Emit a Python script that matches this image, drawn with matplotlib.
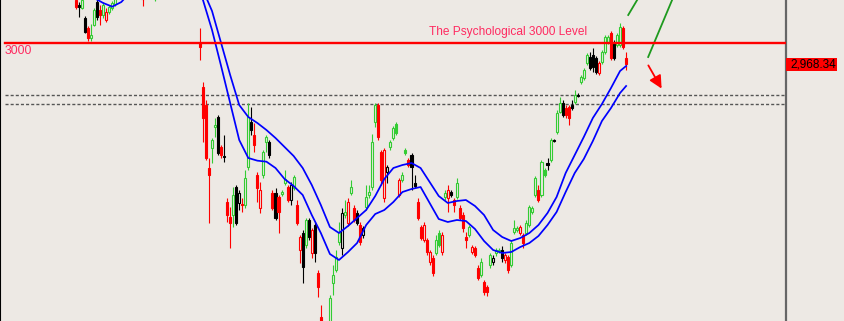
import matplotlib
matplotlib.use("Agg")
import matplotlib.pyplot as plt
from matplotlib.patches import Rectangle
from matplotlib.transforms import blended_transform_factory
import numpy as np

plt.rcParams['font.family'] = ['Liberation Sans', 'DejaVu Sans']

# daily candles (price units), oldest first
opens = [3065, 3057.5, 3053, 3038, 3023, 3008, 3027.5, 3062, 3050, 3042.5,
         3035, 3047, 3053, 3059, 3068, 3074, 3080, 3089, 3083, 3095,
         3089, 3086, 3074, 3071, 3077, 3080, 3066.5, 3069.5, 3083, 3092,
         3110, 3104, 3101, 3104, 3110, 3101, 3080, 3092, 3086, 3071,
         3080, 3000.5, 2934.5, 2907.5, 2813, 2843, 2874.5, 2889.5, 2844.5, 2831,
         2762, 2739.5, 2742.5, 2784.5, 2760.5, 2759, 2757.5, 2814.5, 2882, 2862.5,
         2802.5, 2753, 2802.5, 2852, 2852, 2775.5, 2775.5, 2769.5, 2774, 2790.5,
         2784.5, 2765, 2783, 2757.5, 2690, 2715.5, 2697.5, 2735, 2685.5, 2727.5,
         2655.5, 2589.5, 2577.5, 2570, 2573, 2640.5, 2660, 2702, 2693, 2742.5,
         2730.5, 2775.5, 2753, 2745.5, 2727.5, 2712.5, 2754.5, 2772.5, 2784.5, 2882,
         2907.5, 2837, 2768, 2807, 2844.5, 2858, 2879, 2772.5, 2795, 2840,
         2825, 2832.5, 2790.5, 2762, 2724.5, 2705, 2705, 2672, 2678, 2685.5,
         2715.5, 2687, 2769.5, 2768, 2777, 2765, 2769.5, 2753, 2742.5, 2709.5,
         2712.5, 2687, 2693, 2663, 2652.5, 2642, 2634.5, 2667.5, 2672, 2685.5,
         2688.5, 2690, 2675, 2679.5, 2667.5, 2717, 2720, 2715.5, 2712.5, 2715.5,
         2727.5, 2747, 2772.5, 2780, 2772.5, 2810, 2820.5, 2825, 2855, 2867,
         2897, 2910.5, 2903, 2904.5, 2907.5, 2912, 2922.5, 2942, 2948, 2970.5,
         2979.5, 2982.5, 2978, 2955.5, 2972, 2987, 3002, 3015.5, 3000.5, 2997.5,
         2997.5, 3023, 2978]
closes = [3054.5, 3054.5, 3065, 3017, 3008, 3012.5, 3050, 3039.5, 3042.5, 3057.5,
          3047, 3054.5, 3060.5, 3068, 3077, 3086, 3092, 3080, 3098, 3086,
          3077, 3074, 3066.5, 3083, 3089, 3071, 3071, 3080, 3095, 3107,
          3098, 3089, 3113, 3119, 3095, 3086, 3095, 3077, 3074, 3083,
          3068, 2994.5, 2888, 2828, 2802.5, 2855, 2877.5, 2835.5, 2832.5, 2829.5,
          2742.5, 2730.5, 2772.5, 2730.5, 2775.5, 2757.5, 2798, 2889.5, 2870, 2847.5,
          2783, 2780, 2837, 2859.5, 2832.5, 2753, 2738, 2747, 2777, 2796.5,
          2765, 2787.5, 2799.5, 2730.5, 2709.5, 2664.5, 2735, 2709.5, 2720, 2685.5,
          2634.5, 2576, 2558, 2547.5, 2618, 2652.5, 2679.5, 2717, 2745.5, 2747,
          2762, 2784.5, 2735, 2730.5, 2702, 2723, 2769.5, 2777, 2852, 2907.5,
          2859.5, 2795, 2840, 2814.5, 2852, 2873, 2865.5, 2795, 2802.5, 2835.5,
          2817.5, 2814.5, 2786, 2738, 2708, 2727.5, 2687, 2687, 2655.5, 2705,
          2697.5, 2712.5, 2775.5, 2780, 2772.5, 2757.5, 2790.5, 2738, 2723, 2705,
          2724.5, 2694.5, 2682.5, 2648, 2672, 2627, 2627, 2682.5, 2678, 2690,
          2690, 2678, 2682.5, 2660, 2700.5, 2723, 2723, 2724.5, 2700.5, 2730.5,
          2754.5, 2753, 2798, 2765, 2822, 2802.5, 2817.5, 2855, 2853.5, 2895.5,
          2910.5, 2892.5, 2892.5, 2888, 2903, 2922.5, 2921, 2949.5, 2960, 2982.5,
          2963, 2964.5, 2957, 2970.5, 2987, 3009.5, 3009.5, 2978, 2978, 3012.5,
          3024.5, 2994.5, 2968.34]
highs = [3069.5, 3062, 3069.5, 3041, 3026, 3029, 3053, 3068, 3057.5, 3062,
         3053, 3057.5, 3063.5, 3071, 3080, 3089, 3095, 3093, 3101, 3099,
         3092, 3089, 3080, 3086, 3092, 3083, 3074, 3083, 3098, 3110,
         3113, 3107, 3116, 3122, 3113, 3104, 3098, 3095, 3089, 3086,
         3083, 3023, 2942, 2915, 2828, 2858, 2888, 2892.5, 2847.5, 2862.5,
         2768, 2754.5, 2784.5, 2787.5, 2780, 2768, 2810, 2910.5, 2904.5, 2880.5,
         2807, 2792, 2840, 2862.5, 2855, 2780, 2783, 2772.5, 2780, 2810,
         2787.5, 2792, 2802.5, 2765, 2712.5, 2720, 2738, 2738, 2723, 2732,
         2660, 2607.5, 2582, 2575, 2622.5, 2667.5, 2690, 2732, 2753, 2765,
         2768, 2795, 2757.5, 2750, 2732, 2726, 2787.5, 2787.5, 2864, 2910.5,
         2910.5, 2840, 2843, 2817.5, 2855, 2876, 2882, 2798, 2807, 2843,
         2828, 2835.5, 2802.5, 2768, 2727.5, 2732, 2708, 2690, 2682.5, 2712.5,
         2720, 2717, 2780, 2787.5, 2780, 2768, 2798, 2757.5, 2747, 2717,
         2727.5, 2697.5, 2696, 2667.5, 2678, 2645, 2637.5, 2685.5, 2682.5, 2693,
         2693, 2696, 2685.5, 2682.5, 2705, 2735, 2726, 2727.5, 2715.5, 2735,
         2757.5, 2756, 2801, 2787.5, 2825, 2813, 2828, 2858, 2856.5, 2900,
         2919.5, 2915, 2907.5, 2907.5, 2915, 2930, 2925.5, 2952.5, 2963, 2985.5,
         2987, 2993, 2981, 2973.5, 2990, 3012.5, 3012.5, 3018.5, 3005, 3015.5,
         3030.5, 3026, 2987]
lows = [3051.5, 3039.5, 3051.5, 3015.5, 3003.5, 3003.5, 3026, 3035, 3027.5, 3038,
        3032, 3044, 3050, 3056, 3066, 3071, 3078, 3077, 3081, 3083,
        3074, 3071, 3056, 3068, 3074, 3068, 3063.5, 3067, 3080, 3089,
        3095, 3086, 3098, 3101, 3092, 3083, 3077, 3074, 3071, 3068,
        3066, 2975, 2852, 2825, 2730.5, 2820.5, 2859.5, 2832.5, 2828, 2822,
        2732, 2693, 2724.5, 2727.5, 2750, 2747, 2753, 2810, 2862.5, 2837,
        2762, 2745.5, 2798, 2837, 2828, 2750, 2735, 2715.5, 2771, 2787.5,
        2762, 2757.5, 2780, 2727.5, 2670.5, 2640.5, 2693, 2705, 2678, 2672,
        2619.5, 2567, 2552, 2540, 2562.5, 2622.5, 2657, 2697.5, 2682.5, 2738,
        2726, 2772.5, 2732, 2727.5, 2697.5, 2708, 2750, 2768, 2780, 2874.5,
        2855, 2787.5, 2762, 2790.5, 2840, 2855, 2862.5, 2769.5, 2792, 2832.5,
        2814.5, 2780, 2783, 2735, 2705, 2702, 2682.5, 2667.5, 2651, 2682.5,
        2694.5, 2682.5, 2765, 2747, 2769.5, 2747, 2766.5, 2735, 2717, 2693,
        2709.5, 2684, 2679.5, 2645, 2649.5, 2622.5, 2621, 2663, 2667.5, 2681,
        2685.5, 2672, 2670.5, 2655.5, 2664.5, 2714, 2717, 2712.5, 2693, 2712.5,
        2724.5, 2744, 2769.5, 2762, 2769.5, 2799.5, 2810, 2822, 2852, 2864,
        2895.5, 2889.5, 2888, 2877.5, 2900, 2909, 2919.5, 2939, 2945, 2967.5,
        2960, 2957, 2954, 2952.5, 2969, 2984, 2999, 2975, 2975, 2994.5,
        2994.5, 2991.5, 2960]
# g = green, r = red, k = black (hollow body when close > open)
candle_colors = ("rkgkrggkrg" "rggggggrgr" "rrrggrgggg" "rrggrrgrrg"
                 "rrrrrggkrk" "rrgkkrggkr" "rrggkrkrgg" "rkgrrkgkrk"
                 "rrrrggggkg" "rgrkrkgggg" "rrrkgggrgg" "rkkrrrrrrg"
                 "grgrkrgrrr" "grrrgrrgkg" "gkrrgggrrg" "gggrggkgkg"
                 "gkrrkgkggg" "kkkrgggrkg" "grr")

# moving-average channel, read every third bar
band_idx = list(range(0, 181, 3)) + [182]
band_upper = [3110, 3107, 3102.5, 3098, 3095, 3098, 3107, 3116, 3122, 3125,
              3128, 3132.5, 3132.5, 3125, 3080, 3048.5, 3000.5, 2952.5, 2907.5, 2889.5,
              2880.5, 2870, 2858, 2844.5, 2831, 2813, 2787.5, 2757.5, 2724.5, 2715.5,
              2726, 2738, 2750, 2771, 2796.5, 2813, 2817.5, 2820.5, 2813, 2792,
              2771, 2760.5, 2763.5, 2765, 2756, 2742.5, 2720, 2709.5, 2703.5, 2708,
              2715.5, 2727.5, 2745.5, 2769.5, 2805.5, 2832.5, 2859.5, 2888, 2909, 2933,
              2958.5, 2966]
band_lower = [3087.5, 3077, 3068, 3060.5, 3055, 3062, 3077, 3087.5, 3092, 3095,
              3098, 3102.5, 3102.5, 3095, 3065, 3020, 2966, 2910.5, 2855, 2828,
              2824, 2822.5, 2813, 2796.5, 2786, 2772.5, 2742.5, 2715.5, 2684, 2675,
              2687, 2700.5, 2727.5, 2744, 2750, 2762, 2777, 2781.5, 2784.5, 2760.5,
              2736.5, 2732, 2735, 2733.5, 2721.5, 2703.5, 2690, 2685.5, 2687, 2694.5,
              2700.5, 2711, 2727.5, 2747, 2777, 2805.5, 2826.5, 2853.5, 2883.5, 2903,
              2925.5, 2936]

level = 3000
zone = [2922.5, 2909]
last_price = 2968.34

BG = '#ede9e4'
COL = {'g': '#33cc33', 'r': '#ff0000', 'k': '#000000'}
TXT = '#ff2a60'

fig = plt.figure(figsize=(8.45, 3.21), dpi=100)
fig.patch.set_facecolor(BG)
ax = fig.add_axes([0, 0, 786 / 845, 1])
ax.set_facecolor(BG)
ax.set_xlim(-25.15, 234.9)
ax.set_ylim(2583.5, 3065)
ax.set_xticks([])
ax.set_yticks([])
ax.spines['top'].set_visible(False)
ax.spines['bottom'].set_visible(False)
ax.spines['left'].set_color('black')
ax.spines['left'].set_linewidth(1.5)
ax.spines['right'].set_color('#666666')
ax.spines['right'].set_linewidth(1.6)

o = np.array(opens)
c = np.array(closes)
x = np.arange(len(o))
edge = [COL[k] for k in candle_colors]
up = c > o
face = [BG if u else COL[k] for u, k in zip(up, candle_colors)]

ax.vlines(x, lows, highs, colors=edge, lw=0.8, zorder=2)
ax.bar(x, np.maximum(np.abs(c - o), 1.0), bottom=np.minimum(o, c), width=0.68,
       color=face, edgecolor=edge, linewidth=0.8, zorder=3)

ax.plot(band_idx, band_upper, color='#0000ff', lw=1.25, zorder=4)
ax.plot(band_idx, band_lower, color='#0000ff', lw=1.25, zorder=4)

# levels
ax.axhline(level, xmin=5 / 786, color='#ff0000', lw=1.7, zorder=5)
for z in zone:
    ax.axhline(z, xmin=5 / 786, color='#555555', lw=1, ls=(0, (2.2, 1.5)), zorder=1)

ax.text(-23.5, 2996.8, '3000', color=TXT, fontsize=8.8, ha='left', va='top')
ax.text(116.8, 3012.5, 'The Psychological 3000 Level', color=TXT, fontsize=8.6,
        ha='left', va='baseline')

# scenario arrows
ax.plot([182.7, 188.6], [3042.5, 3087.5], color='#1e9a1e', lw=1.3)
ax.plot([189.3, 199.3], [2979.5, 3087.5], color='#1e9a1e', lw=1.3)
ax.annotate('', xy=(194.2, 2928.5), xytext=(188.9, 2970.5),
            arrowprops=dict(arrowstyle='-|>', color='#ff0000', lw=1.3, mutation_scale=19))

# last price tag on the price scale
trans = blended_transform_factory(fig.transFigure, ax.transData)
fig.add_artist(Rectangle((785.7 / 845, last_price - 10), 51.6 / 845, 20,
                         transform=trans, facecolor='#ff0000', edgecolor='none'))
fig.text(790 / 845, last_price, f'{last_price:,.2f}', transform=trans,
         va='center', ha='left', fontsize=8.5, color='black')

fig.savefig('out.png', dpi=100, facecolor=BG)
